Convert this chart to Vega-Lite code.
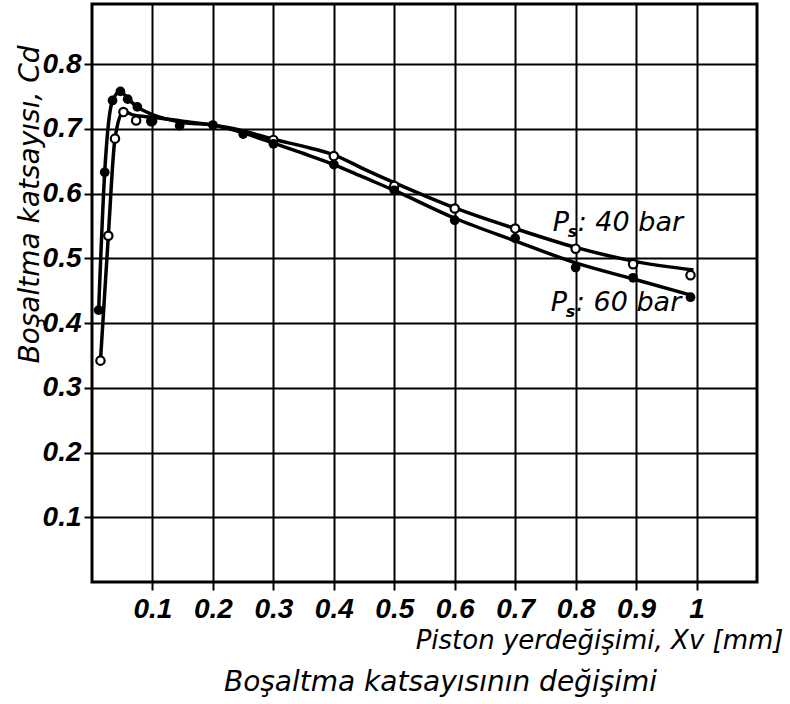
{
  "$schema": "https://vega.github.io/schema/vega-lite/v6.json",
  "width": 665,
  "height": 578,
  "autosize": {"type": "none"},
  "padding": {"left": 92, "top": 4, "right": 33, "bottom": 122},
  "background": "white",
  "config": {
    "view": {"stroke": "black", "strokeWidth": 3},
    "axis": {
      "grid": true, "gridColor": "black", "gridWidth": 2, "gridOpacity": 1,
      "domain": false, "ticks": true, "tickColor": "black", "tickWidth": 2, "tickSize": 8,
      "labelFont": "Liberation Sans", "labelFontSize": 28, "format": ".1~f",
      "labelFontStyle": "italic", "labelFontWeight": "bold", "labelColor": "black",
      "titleFont": "DejaVu Sans", "titleFontSize": 26, "titleFontStyle": "italic",
      "titleFontWeight": "normal", "titleColor": "black"
    }
  },
  "title": {
    "text": "Boşaltma  katsayısının değişimi",
    "orient": "bottom", "anchor": "middle", "offset": 16, "dx": 16,
    "font": "DejaVu Sans", "fontSize": 28, "fontStyle": "italic", "fontWeight": "normal", "color": "black"
  },
  "datasets": {
    "curves": [
      {"series": "40 bar", "x": 0.014, "y": 0.342}, {"series": "40 bar", "x": 0.027, "y": 0.535},
      {"series": "40 bar", "x": 0.038, "y": 0.685}, {"series": "40 bar", "x": 0.052, "y": 0.727},
      {"series": "40 bar", "x": 0.07, "y": 0.721}, {"series": "40 bar", "x": 0.1, "y": 0.718},
      {"series": "40 bar", "x": 0.15, "y": 0.712}, {"series": "40 bar", "x": 0.2, "y": 0.706},
      {"series": "40 bar", "x": 0.25, "y": 0.697}, {"series": "40 bar", "x": 0.3, "y": 0.684},
      {"series": "40 bar", "x": 0.35, "y": 0.673}, {"series": "40 bar", "x": 0.4, "y": 0.66},
      {"series": "40 bar", "x": 0.45, "y": 0.638}, {"series": "40 bar", "x": 0.5, "y": 0.617},
      {"series": "40 bar", "x": 0.6, "y": 0.578}, {"series": "40 bar", "x": 0.7, "y": 0.546},
      {"series": "40 bar", "x": 0.8, "y": 0.517}, {"series": "40 bar", "x": 0.9, "y": 0.495},
      {"series": "40 bar", "x": 0.995, "y": 0.482},
      {"series": "60 bar", "x": 0.011, "y": 0.42}, {"series": "60 bar", "x": 0.021, "y": 0.633},
      {"series": "60 bar", "x": 0.034, "y": 0.744}, {"series": "60 bar", "x": 0.047, "y": 0.758},
      {"series": "60 bar", "x": 0.06, "y": 0.746}, {"series": "60 bar", "x": 0.075, "y": 0.734},
      {"series": "60 bar", "x": 0.1, "y": 0.722}, {"series": "60 bar", "x": 0.15, "y": 0.71},
      {"series": "60 bar", "x": 0.2, "y": 0.706}, {"series": "60 bar", "x": 0.25, "y": 0.694},
      {"series": "60 bar", "x": 0.3, "y": 0.678}, {"series": "60 bar", "x": 0.35, "y": 0.662},
      {"series": "60 bar", "x": 0.4, "y": 0.645}, {"series": "60 bar", "x": 0.45, "y": 0.625},
      {"series": "60 bar", "x": 0.5, "y": 0.605}, {"series": "60 bar", "x": 0.6, "y": 0.562},
      {"series": "60 bar", "x": 0.7, "y": 0.527}, {"series": "60 bar", "x": 0.8, "y": 0.493},
      {"series": "60 bar", "x": 0.9, "y": 0.467}, {"series": "60 bar", "x": 0.995, "y": 0.442}
    ],
    "points": [
      {"series": "40 bar", "x": 0.014, "y": 0.342}, {"series": "40 bar", "x": 0.027, "y": 0.535},
      {"series": "40 bar", "x": 0.038, "y": 0.685}, {"series": "40 bar", "x": 0.052, "y": 0.726},
      {"series": "40 bar", "x": 0.073, "y": 0.713}, {"series": "40 bar", "x": 0.098, "y": 0.712},
      {"series": "40 bar", "x": 0.3, "y": 0.683}, {"series": "40 bar", "x": 0.4, "y": 0.658},
      {"series": "40 bar", "x": 0.5, "y": 0.612}, {"series": "40 bar", "x": 0.6, "y": 0.577},
      {"series": "40 bar", "x": 0.7, "y": 0.546}, {"series": "40 bar", "x": 0.8, "y": 0.515},
      {"series": "40 bar", "x": 0.895, "y": 0.491}, {"series": "40 bar", "x": 0.99, "y": 0.474},
      {"series": "60 bar", "x": 0.011, "y": 0.42}, {"series": "60 bar", "x": 0.021, "y": 0.633},
      {"series": "60 bar", "x": 0.034, "y": 0.744}, {"series": "60 bar", "x": 0.047, "y": 0.758},
      {"series": "60 bar", "x": 0.059, "y": 0.746}, {"series": "60 bar", "x": 0.075, "y": 0.734},
      {"series": "60 bar", "x": 0.1, "y": 0.712}, {"series": "60 bar", "x": 0.145, "y": 0.705},
      {"series": "60 bar", "x": 0.2, "y": 0.706}, {"series": "60 bar", "x": 0.25, "y": 0.692},
      {"series": "60 bar", "x": 0.3, "y": 0.677}, {"series": "60 bar", "x": 0.4, "y": 0.645},
      {"series": "60 bar", "x": 0.5, "y": 0.605}, {"series": "60 bar", "x": 0.6, "y": 0.559},
      {"series": "60 bar", "x": 0.7, "y": 0.531}, {"series": "60 bar", "x": 0.8, "y": 0.486},
      {"series": "60 bar", "x": 0.895, "y": 0.47}, {"series": "60 bar", "x": 0.99, "y": 0.44}
    ],
    "labels": [
      {"rest": ": 40 bar", "x": 0.762, "y": 0.543},
      {"rest": ": 60 bar", "x": 0.759, "y": 0.419}
    ]
  },
  "layer": [
    {
      "data": {"name": "curves"},
      "mark": {"type": "line", "color": "black", "strokeWidth": 3.5, "interpolate": "monotone"},
      "encoding": {
        "x": {
          "field": "x", "type": "quantitative",
          "scale": {"domain": [0, 1.1], "nice": false, "zero": false},
          "axis": {
            "values": [0.1, 0.2, 0.3, 0.4, 0.5, 0.6, 0.7, 0.8, 0.9, 1],
            "labelPadding": 5,
            "title": "Piston yerdeğişimi, Xv [mm]",
            "titleX": 691, "titleY": 66, "titleAlign": "right", "titleAnchor": null,
            "titleBaseline": "alphabetic"
          }
        },
        "y": {
          "field": "y", "type": "quantitative",
          "scale": {"domain": [0, 0.893], "nice": false, "zero": false},
          "axis": {
            "values": [0.1, 0.2, 0.3, 0.4, 0.5, 0.6, 0.7, 0.8],
            "labelPadding": 3,
            "title": "Boşaltma katsayısı, Cd",
            "titleX": -62, "titleY": 200, "titleAlign": "center", "titleAnchor": null,
            "titleBaseline": "middle", "titleFontSize": 28
          }
        },
        "detail": {"field": "series"}
      }
    },
    {
      "data": {"name": "points"},
      "transform": [{"filter": "datum.series == '40 bar'"}],
      "mark": {"type": "point", "shape": "circle", "filled": true, "fill": "white", "stroke": "black", "strokeWidth": 2.2, "size": 70, "opacity": 1},
      "encoding": {
        "x": {"field": "x", "type": "quantitative"},
        "y": {"field": "y", "type": "quantitative"}
      }
    },
    {
      "data": {"name": "points"},
      "transform": [{"filter": "datum.series == '60 bar'"}],
      "mark": {"type": "point", "shape": "circle", "filled": true, "color": "black", "size": 95, "opacity": 1},
      "encoding": {
        "x": {"field": "x", "type": "quantitative"},
        "y": {"field": "y", "type": "quantitative"}
      }
    },
    {
      "data": {"name": "labels"},
      "mark": {"type": "text", "text": "P", "align": "left", "baseline": "alphabetic", "font": "DejaVu Sans", "fontSize": 27, "fontStyle": "italic", "color": "black"},
      "encoding": {
        "x": {"field": "x", "type": "quantitative"},
        "y": {"field": "y", "type": "quantitative"}
      }
    },
    {
      "data": {"name": "labels"},
      "mark": {"type": "text", "text": "s", "align": "left", "baseline": "alphabetic", "dx": 15, "dy": 6, "font": "DejaVu Sans", "fontSize": 16, "fontWeight": "bold", "fontStyle": "italic", "color": "black"},
      "encoding": {
        "x": {"field": "x", "type": "quantitative"},
        "y": {"field": "y", "type": "quantitative"}
      }
    },
    {
      "data": {"name": "labels"},
      "mark": {"type": "text", "align": "left", "baseline": "alphabetic", "dx": 25, "font": "DejaVu Sans", "fontSize": 27, "fontStyle": "italic", "color": "black"},
      "encoding": {
        "x": {"field": "x", "type": "quantitative"},
        "y": {"field": "y", "type": "quantitative"},
        "text": {"field": "rest"}
      }
    }
  ]
}
